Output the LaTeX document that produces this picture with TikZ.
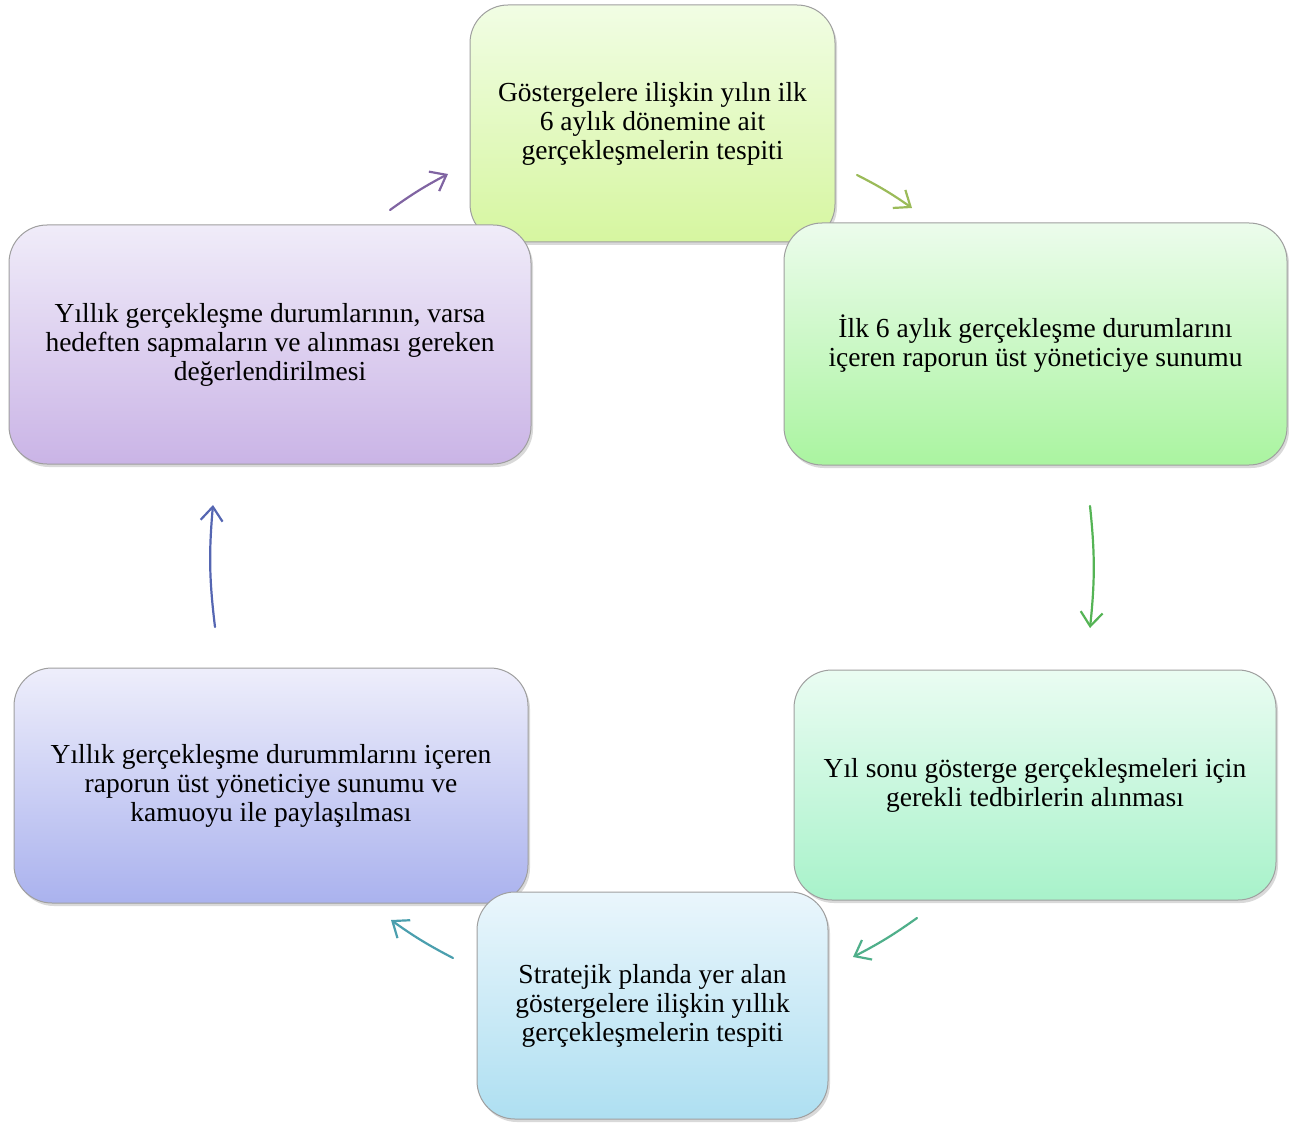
\documentclass[tikz,border=0pt]{standalone}
\usepackage{fontspec}
\setmainfont{Liberation Serif}
\usetikzlibrary{shadows,arrows.meta}
\definecolor{t1}{HTML}{F1FDE4}\definecolor{b1}{HTML}{D6F6A0}
\definecolor{t2}{HTML}{ECFCEC}\definecolor{b2}{HTML}{AAF4A0}
\definecolor{t3}{HTML}{EAFCF2}\definecolor{b3}{HTML}{A8F2CA}
\definecolor{t4}{HTML}{EAF6FC}\definecolor{b4}{HTML}{AEDFF1}
\definecolor{t5}{HTML}{EEEEFB}\definecolor{b5}{HTML}{AAB2EE}
\definecolor{t6}{HTML}{F0ECF9}\definecolor{b6}{HTML}{CAB4E6}
\definecolor{a1}{HTML}{9BBB59}\definecolor{a2}{HTML}{55B455}
\definecolor{a3}{HTML}{4FAF8A}\definecolor{a4}{HTML}{4B9FAE}
\definecolor{a5}{HTML}{5566B2}\definecolor{a6}{HTML}{8064A2}
\tikzset{
  cyclebox/.style={rectangle, rounded corners=38pt, draw=gray!75, line width=1pt,
    inner sep=0pt, align=center, font=\fontsize{27.5pt}{29pt}\selectfont,
    drop shadow={opacity=0.3, shadow xshift=2pt, shadow yshift=-3pt}},
  cyc/.style={line width=2.2pt, line cap=round,
    -{Straight Barb[length=14pt,width=22pt,line width=2.2pt]}}
}
\begin{document}
\begin{tikzpicture}[x=1pt,y=-1pt]
\useasboundingbox (0,0) rectangle (1289,1123);
\node[cyclebox, top color=t1, bottom color=b1, minimum width=365pt, minimum height=237pt] (n1) at (652.5,123.5)
  {Göstergelere ilişkin yılın ilk\\6 aylık dönemine ait\\gerçekleşmelerin tespiti};
\node[cyclebox, top color=t2, bottom color=b2, minimum width=503pt, minimum height=242pt] (n2) at (1035.5,344)
  {İlk 6 aylık gerçekleşme durumlarını\\içeren raporun üst yöneticiye sunumu};
\node[cyclebox, top color=t3, bottom color=b3, minimum width=482pt, minimum height=230pt] (n3) at (1035,785)
  {Yıl sonu gösterge gerçekleşmeleri için\\gerekli tedbirlerin alınması};
\node[cyclebox, top color=t5, bottom color=b5, minimum width=514pt, minimum height=235pt] (n5) at (271,785.5)
  {Yıllık gerçekleşme durummlarını içeren\\raporun üst yöneticiye sunumu ve\\kamuoyu ile paylaşılması};
\node[cyclebox, top color=t4, bottom color=b4, minimum width=351pt, minimum height=227pt] (n4) at (652.5,1005.5)
  {Stratejik planda yer alan\\göstergelere ilişkin yıllık\\gerçekleşmelerin tespiti};
\node[cyclebox, top color=t6, bottom color=b6, minimum width=522pt, minimum height=239pt] (n6) at (270,344.5)
  {Yıllık gerçekleşme durumlarının, varsa\\hedeften sapmaların ve alınması gereken\\değerlendirilmesi};
% arrow end points
\coordinate (p1s) at (857,175); \coordinate (p1e) at (912,208);
\coordinate (p2s) at (1090,506); \coordinate (p2e) at (1090,628);
\coordinate (p3s) at (917,918); \coordinate (p3e) at (853,957);
\coordinate (p4s) at (453,958); \coordinate (p4e) at (391,920);
\coordinate (p5s) at (215,627); \coordinate (p5e) at (213,505);
\coordinate (p6s) at (390,210); \coordinate (p6e) at (448,174);
\draw[cyc, a1] (p1s) to[bend left=4] (p1e);
\draw[cyc, a2] (p2s) to[bend left=6] (p2e);
\draw[cyc, a3] (p3s) to[bend left=4] (p3e);
\draw[cyc, a4] (p4s) to[bend left=4] (p4e);
\draw[cyc, a5] (p5s) to[bend left=6] (p5e);
\draw[cyc, a6] (p6s) to[bend left=4] (p6e);
\end{tikzpicture}
\end{document}
